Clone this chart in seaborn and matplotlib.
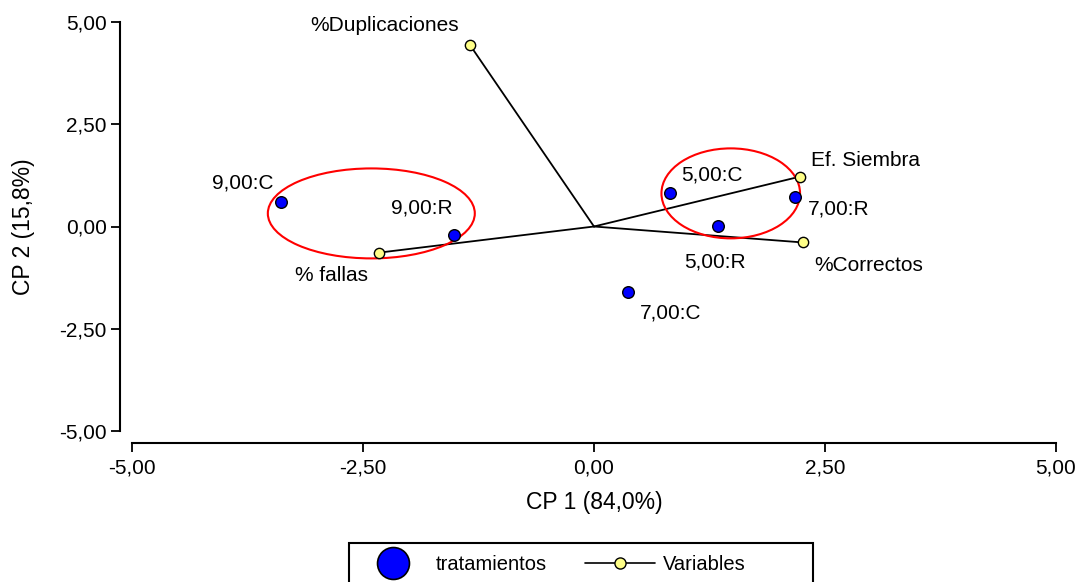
import numpy as np
import pandas as pd
import matplotlib
matplotlib.use("Agg")
import matplotlib.pyplot as plt
import seaborn as sns
from matplotlib.patches import Ellipse, Rectangle
from matplotlib.lines import Line2D

# ---------------- data ----------------
trat_labels = ["9,00:C", "9,00:R", "5,00:C", "5,00:R", "7,00:R", "7,00:C"]
trat_cp1 = [-3.39, -1.51, 0.82, 1.34, 2.18, 0.37]
trat_cp2 = [0.61, -0.20, 0.81, 0.02, 0.73, -1.59]

var_labels = ["%Duplicaciones", "Ef. Siembra", "%Correctos", "% fallas"]
var_cp1 = [-1.34, 2.23, 2.26, -2.33]
var_cp2 = [4.43, 1.22, -0.39, -0.64]

ellipse_cx = [-2.41, 1.48]
ellipse_cy = [0.32, 0.81]
ellipse_w = [2.24, 1.50]
ellipse_h = [2.20, 2.20]

tick_values = [-5.0, -2.5, 0.0, 2.5, 5.0]
tick_labels = ["-5,00", "-2,50", "0,00", "2,50", "5,00"]

x_title = "CP 1 (84,0%)"
y_title = "CP 2 (15,8%)"
legend_labels = ["tratamientos", "Variables"]

# label placement (pixel offsets, alignment) - layout only
trat_offsets = [(-7, 19, "right"), (-2, 27, "right"), (11, 18, "left"),
                (-34, -36, "left"), (12, -12, "left"), (12, -21, "left")]
var_offsets = [(-11, 20, "right"), (11, 16, "left"), (11, -23, "left"),
               (-11, -23, "right")]

# ---------------- style ----------------
sns.set_theme(style="ticks")
plt.rcParams["font.family"] = ["Liberation Sans", "DejaVu Sans"]
plt.rcParams["text.color"] = "black"
plt.rcParams["axes.labelcolor"] = "black"

W, H = 1077, 582
fig = plt.figure(figsize=(W / 100, H / 100), dpi=100)
fig.patch.set_facecolor("white")
ax = fig.add_axes([132 / W, 1 - 431 / H, (1056 - 132) / W, (431 - 22) / H])
ax.set_facecolor("white")

# variable vectors
seg = pd.DataFrame({
    "var": np.repeat(var_labels, 2),
    "x": np.ravel([[0.0, v] for v in var_cp1]),
    "y": np.ravel([[0.0, v] for v in var_cp2]),
})
sns.lineplot(data=seg, x="x", y="y", units="var", estimator=None, sort=False,
             color="black", linewidth=1.3, ax=ax, zorder=2, legend=False)

# ellipses
for cx, cy, w, h in zip(ellipse_cx, ellipse_cy, ellipse_w, ellipse_h):
    ax.add_patch(Ellipse((cx, cy), w, h, fill=False, edgecolor="#FF0000",
                         linewidth=1.5, zorder=2.5))

# points
sns.scatterplot(x=trat_cp1, y=trat_cp2, color="#0000FF", edgecolor="black",
                linewidth=1.0, s=70, ax=ax, zorder=3, legend=False)
sns.scatterplot(x=var_cp1, y=var_cp2, color="#FFFF88", edgecolor="black",
                linewidth=1.0, s=55, ax=ax, zorder=3, legend=False)

fs = 15
for lab, x, y, (dx, dy, ha) in zip(trat_labels, trat_cp1, trat_cp2, trat_offsets):
    ax.annotate(lab, (x, y), xytext=(dx, dy), textcoords="offset pixels",
                ha=ha, va="center", fontsize=fs, color="black")
for lab, x, y, (dx, dy, ha) in zip(var_labels, var_cp1, var_cp2, var_offsets):
    ax.annotate(lab, (x, y), xytext=(dx, dy), textcoords="offset pixels",
                ha=ha, va="center", fontsize=fs, color="black")

# axes
ax.set_xlim(-5, 5)
ax.set_ylim(-5, 5)
ax.set_xticks(tick_values)
ax.set_xticklabels(tick_labels)
ax.set_yticks(tick_values)
ax.set_yticklabels(tick_labels)
ax.tick_params(axis="both", direction="out", length=6.5, width=1.3,
               colors="black", labelsize=15)
ax.tick_params(axis="x", pad=5)
ax.tick_params(axis="y", pad=3)
for s in ["top", "right"]:
    ax.spines[s].set_visible(False)
for s in ["left", "bottom"]:
    ax.spines[s].set_position(("outward", 8.64))
    ax.spines[s].set_linewidth(1.5)
    ax.spines[s].set_color("black")
ax.set_xlabel(x_title, fontsize=16.5, color="black")
ax.set_ylabel(y_title, fontsize=16.5, color="black")
ax.xaxis.set_label_coords(0.5, (431 - 491) / 409)
ax.yaxis.set_label_coords((35 - 132) / 924, 0.5)

# legend
handles = [
    Line2D([], [], linestyle="none", marker="o", markersize=23,
           markerfacecolor="#0000FF", markeredgecolor="black", markeredgewidth=1.2),
    Line2D([], [], color="black", linewidth=1.2, marker="o", markersize=8,
           markerfacecolor="#FFFF88", markeredgecolor="black", markeredgewidth=1.0),
]
leg = fig.legend(handles, legend_labels, loc="center left",
                 bbox_to_anchor=(358 / W, 1 - 565 / H), ncol=2, frameon=False,
                 fontsize=14.5, handlelength=3.5, handletextpad=0.35,
                 columnspacing=1.9, borderpad=0, borderaxespad=0,
                 labelcolor="black")
fig.patches.append(Rectangle((349 / W, 1 - 600 / H), (813 - 349) / W, (600 - 543) / H,
                             transform=fig.transFigure, fill=False,
                             edgecolor="black", linewidth=1.5))

fig.savefig("out.png", dpi=100)
